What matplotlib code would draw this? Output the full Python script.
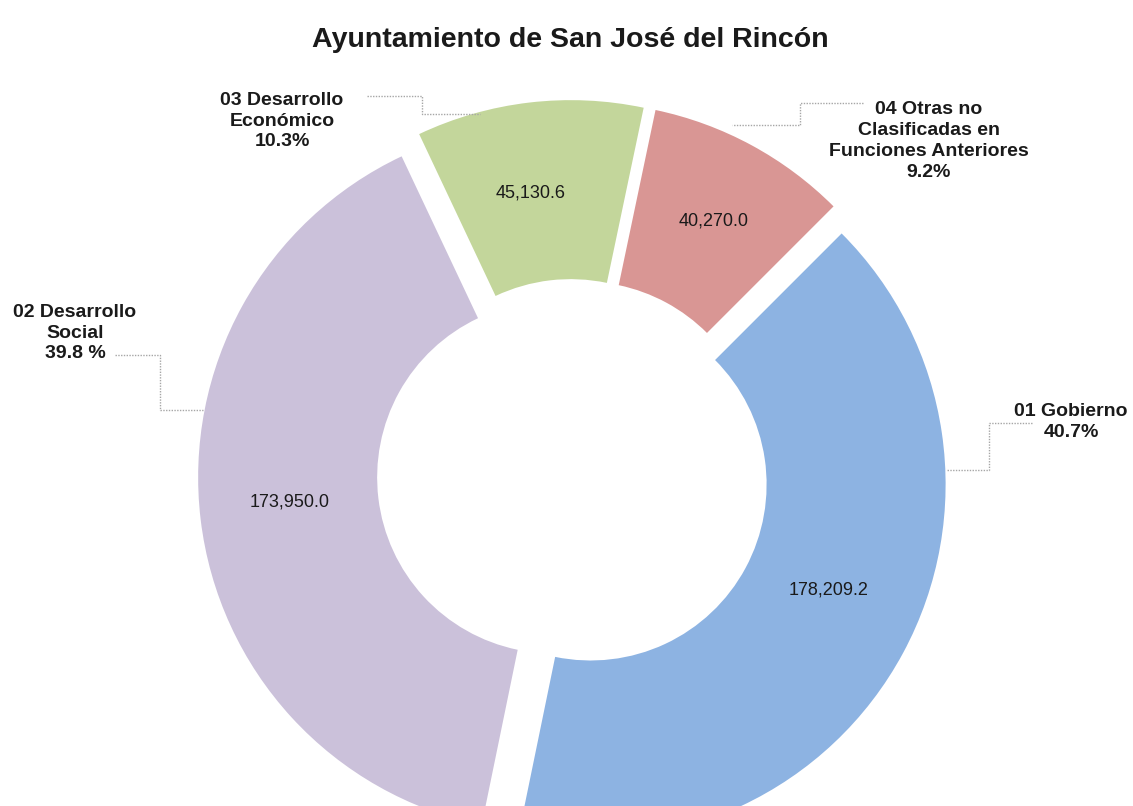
import numpy as np
import matplotlib.pyplot as plt

# Data
categories = ["01 Gobierno", "02 Desarrollo Social", "03 Desarrollo Económico",
              "04 Otras no Clasificadas en Funciones Anteriores"]
values = [178209.2, 173950.0, 45130.6, 40270.0]
pct_labels = ["40.7%", "39.8 %", "10.3%", "9.2%"]
colors = ["#8DB3E2", "#CBC1DA", "#C3D69B", "#D99694"]

plt.rcParams['font.family'] = ['Liberation Sans', 'DejaVu Sans']

W, H = 1133, 806
fig = plt.figure(figsize=(W / 100, H / 100), dpi=100)
ax = fig.add_axes([0, 0, 1, 1])

# geometry in pixel units
cx, cy = 573, H - 475
R, r_in = 355, 176
total = sum(values)

wedges, texts, autotexts = ax.pie(
    values, colors=colors, startangle=45, counterclock=False,
    radius=R, center=(cx, cy), explode=[20] * len(values),
    wedgeprops=dict(width=R - r_in, linewidth=0),
    pctdistance=(R + r_in) / 2 / R,
    autopct=lambda p: f"{p * total / 100:,.1f}",
    textprops=dict(fontsize=13, color="#1a1a1a"))

# small nudges of the value labels to match the original layout
nudges = [(4, 20), (0, 7), (-9, -2), (5, 3)]
for t, (dx, dy) in zip(autotexts, nudges):
    x, y = t.get_position()
    t.set_position((x + dx, y + dy))

ax.set_xlim(0, W)
ax.set_ylim(0, H)
ax.set_aspect('auto')
ax.axis('off')

ax.text(570, H - 40, "Ayuntamiento de San José del Rincón", ha='center', va='center',
        fontsize=20.5, fontweight='bold', color="#1a1a1a")

# category labels: text, (x, y) centre, leader polyline in pixels
label_text = [
    "01 Gobierno\n" + pct_labels[0],
    "02 Desarrollo\nSocial\n" + pct_labels[1],
    "03 Desarrollo\nEconómico\n" + pct_labels[2],
    "04 Otras no\nClasificadas en\nFunciones Anteriores\n" + pct_labels[3],
]
label_pos = [(1071, 422), (75, 333), (282, 121), (929, 141)]
leaders = [
    [(1032, 423), (989, 423), (989, 470), (947, 470)],
    [(115, 355), (160, 355), (160, 410), (203, 410)],
    [(367, 96), (422, 96), (422, 114), (480, 114)],
    [(863, 103), (800, 103), (800, 125), (732, 125)],
]

for txt, (x, y), pts in zip(label_text, label_pos, leaders):
    ax.text(x, H - y, txt, ha='center', va='center', fontsize=14,
            fontweight='bold', linespacing=1.3, color="#1a1a1a")
    px = [p[0] for p in pts]
    py = [H - p[1] for p in pts]
    ax.plot(px, py, color="#A6A6A6", linewidth=1, linestyle=(0, (1, 1)))

fig.savefig("out.png", dpi=100)
